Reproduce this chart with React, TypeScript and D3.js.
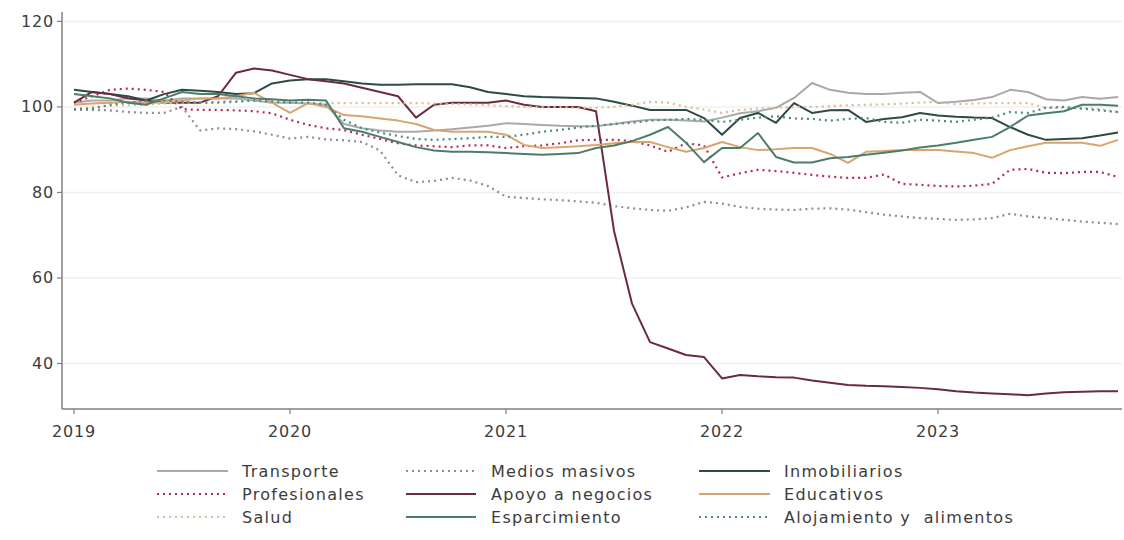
import React from "react";
import * as d3 from "d3";

const W = 1124;
const H = 540;

const yearTicks = [2019, 2020, 2021, 2022, 2023];
const yTicks = [40, 60, 80, 100, 120];

const transporte = [101, 101.5, 101.5, 102, 102, 101.5, 102, 102, 102, 102, 101.5, 101, 101, 100.8, 100.5, 96, 95, 94.5, 94.2, 94.2, 94.5, 94.8, 95.2, 95.6, 96.2, 96, 95.8, 95.6, 95.5, 95.5, 96, 96.6, 97, 97, 96.8, 96.6, 97.5, 98.5, 99, 99.8, 102.1, 105.6, 104, 103.3, 103, 103, 103.3, 103.5, 100.9, 101.2, 101.6, 102.3, 104, 103.5, 101.8, 101.5, 102.3, 101.9, 102.3];
const mediosMasivos = [99.3, 99.3, 99.2, 98.8, 98.6, 98.6, 100, 94.5, 95, 94.8, 94.3, 93.5, 92.6, 93, 92.4, 92.2, 91.8, 89.8, 84, 82.4, 82.7, 83.4, 82.8, 81.5, 79, 78.7, 78.4, 78.2, 77.9, 77.6, 76.8, 76.3, 75.9, 75.7, 76.5, 77.8, 77.4, 76.6, 76.2, 76, 75.9, 76.2, 76.3, 76, 75.4, 74.8, 74.4, 74, 73.8, 73.6, 73.7, 74, 75, 74.4, 74, 73.6, 73.2, 72.9, 72.6];
const inmobiliarios = [104, 103.5, 103, 102.5, 101.5, 103, 104, 103.8, 103.5, 103, 103.2, 105.5, 106.2, 106.5, 106.5, 106, 105.5, 105.2, 105.2, 105.3, 105.3, 105.3, 104.6, 103.5, 103, 102.5, 102.3, 102.2, 102.1, 102, 101.2, 100.3, 99.3, 99.3, 99.3, 97.4, 93.5, 97.4, 98.6, 96.3, 100.9, 98.6, 99.2, 99.3, 96.5, 97.2, 97.6, 98.6, 98, 97.7, 97.5, 97.4, 95.3, 93.5, 92.3, 92.5, 92.7, 93.3, 94];
const profesionales = [101, 102.5, 104, 104.3, 104, 103.5, 99.5, 99.3, 99.3, 99.2, 99, 98.5, 97, 95.8, 95, 94.6, 93.5, 92.5, 91.5, 91, 90.8, 90.6, 91, 91, 90.4, 90.8, 91, 91.5, 92.2, 92.3, 92.3, 92, 91, 89.5, 91.5, 91, 83.5, 84.5, 85.3, 85, 84.6, 84.1, 83.7, 83.4, 83.4, 84.2, 82, 81.8, 81.5, 81.4, 81.6, 82, 85.3, 85.5, 84.6, 84.5, 84.8, 84.8, 83.6];
const apoyoNegocios = [101, 103.5, 103, 102, 101.5, 101, 101, 101, 102.5, 108, 109, 108.5, 107.5, 106.5, 106, 105.5, 104.5, 103.5, 102.5, 97.5, 100.5, 101, 101, 101, 101.5, 100.5, 100, 100, 100, 99, 71, 54, 45, 43.5, 42, 41.5, 36.5, 37.3, 37, 36.8, 36.7, 36, 35.5, 35, 34.8, 34.7, 34.5, 34.3, 34, 33.5, 33.2, 33, 32.8, 32.6, 33, 33.3, 33.4, 33.5, 33.5];
const educativos = [100.5, 100.8, 101, 101.2, 101, 101, 101.5, 102, 102, 102.5, 103.3, 101, 98.6, 100.9, 100, 98.1, 97.8, 97.3, 96.8, 96, 94.6, 94.2, 94.2, 94.2, 93.5, 91.1, 90.4, 90.6, 90.8, 91.1, 91.5, 91.8, 91.8, 90.6, 89.5, 90.4, 91.8, 90.6, 89.9, 90.1, 90.4, 90.4, 89, 86.9, 89.5, 89.7, 89.9, 89.9, 89.9, 89.6, 89.2, 88.1, 89.9, 90.8, 91.6, 91.6, 91.6, 90.9, 92.3];
const salud = [99.5, 100, 100.2, 100.5, 100.5, 100.8, 101, 101, 101.2, 101.5, 101.5, 101.2, 101, 100.9, 100.9, 100.9, 100.9, 100.9, 100.9, 100.9, 100.8, 100.7, 100.6, 100.4, 100.2, 100, 100, 100, 99.8, 99.8, 100, 100.5, 101.2, 101, 100, 99.4, 98.6, 99.3, 99.6, 99.8, 100, 100, 100.2, 100.4, 100.5, 100.6, 100.8, 101, 101.2, 100.6, 100.8, 100.9, 100.9, 100.9, 99.8, 99.8, 99.8, 99.5, 98.8];
const esparcimiento = [103, 102.5, 102, 101, 100.5, 102, 103.5, 103, 103, 102.5, 102, 101.8, 101.5, 101.7, 101.5, 95, 94.2, 93, 91.8, 90.6, 89.8, 89.5, 89.5, 89.4, 89.2, 89, 88.8, 89, 89.2, 90.4, 91, 92, 93.5, 95.3, 91.6, 87.1, 90.4, 90.4, 93.9, 88.3, 87, 87, 88, 88.3, 88.8, 89.3, 89.8, 90.5, 91, 91.6, 92.3, 93, 95.3, 98, 98.5, 99, 100.5, 100.5, 100.3];
const alojamiento = [99.5, 99.6, 100.5, 101, 101.5, 101.5, 101.2, 101, 101, 101.2, 101.5, 101.3, 101, 101, 100.5, 97, 95, 94, 93.2, 92.5, 92.3, 92.5, 92.7, 93, 93, 93.5, 94.2, 94.6, 95.2, 95.6, 96, 96.3, 96.8, 97, 97.2, 97, 96.5, 97, 97.5, 97.8, 97.3, 97.2, 96.8, 97.2, 97.4, 96.5, 96.3, 97, 96.8, 96.5, 97, 97.5, 98.8, 98.6, 99.8, 100, 99.6, 99.2, 98.8];

const seriesNames = [
  "Transporte",
  "Medios masivos",
  "Inmobiliarios",
  "Profesionales",
  "Apoyo a negocios",
  "Educativos",
  "Salud",
  "Esparcimiento",
  "Alojamiento y  alimentos",
];
const seriesValues = [
  transporte,
  mediosMasivos,
  inmobiliarios,
  profesionales,
  apoyoNegocios,
  educativos,
  salud,
  esparcimiento,
  alojamiento,
];
const seriesColors = [
  "#a9a9a9",
  "#8e8e8e",
  "#2e4a44",
  "#b8294f",
  "#6c2a3e",
  "#d8a56e",
  "#d6bd96",
  "#4d7d6a",
  "#4a8a80",
];
const seriesDashed = [false, true, false, true, false, false, true, false, true];

export default function App() {
  const plotLeft = 62;
  const plotRight = 1122;
  const plotTop = 12;
  const plotBottom = 409;

  // month index: 0 = Jan 2019
  const x = d3.scaleLinear().domain([-2 / 3, 58.22]).range([plotLeft, plotRight]);
  const y = d3.scaleLinear().domain([29.36, 122.2]).range([plotBottom, plotTop]);

  const line = d3
    .line<number>()
    .x((_, i) => x(i))
    .y((d) => y(d));

  const textColor = "#3c3c3c";
  const axisColor = "#808080";
  const font = "'DejaVu Sans', sans-serif";

  const legendRows = [471, 494, 517];
  const legendCols = [
    { x1: 157, x2: 228, tx: 242 },
    { x1: 406, x2: 476, tx: 491 },
    { x1: 699, x2: 770, tx: 784 },
  ];

  return (
    <svg width={W} height={H} style={{ position: "absolute", left: 0, top: 0, background: "#fff" }}>
      <rect x={0} y={0} width={W} height={H} fill="#fff" />
      {yTicks.map((t) => (
        <line key={"g" + t} x1={plotLeft + 1} x2={plotRight} y1={y(t)} y2={y(t)} stroke="#f0f0f0" strokeWidth={1.5} />
      ))}
      {seriesValues.map((vals, k) => (
        <path
          key={seriesNames[k]}
          d={line(vals) || ""}
          fill="none"
          stroke={seriesColors[k]}
          strokeWidth={seriesDashed[k] ? 2.2 : 2}
          strokeDasharray={seriesDashed[k] ? "2 4" : undefined}
          strokeLinejoin="round"
        />
      ))}
      {/* axes */}
      <line x1={plotLeft} x2={plotLeft} y1={plotTop} y2={plotBottom} stroke={axisColor} strokeWidth={1.5} />
      <line x1={plotLeft} x2={plotRight} y1={plotBottom} y2={plotBottom} stroke={axisColor} strokeWidth={1.5} />
      {yTicks.map((t) => (
        <g key={"yt" + t}>
          <line x1={plotLeft - 5} x2={plotLeft} y1={y(t)} y2={y(t)} stroke={axisColor} strokeWidth={1.2} />
          <text x={plotLeft - 8} y={y(t)} textAnchor="end" dominantBaseline="central" fontFamily={font} fontSize={16} letterSpacing={0.8} fill={textColor}>
            {t}
          </text>
        </g>
      ))}
      {yearTicks.map((yr) => {
        const xi = x((yr - 2019) * 12);
        return (
          <g key={"xt" + yr}>
            <line x1={xi} x2={xi} y1={plotBottom} y2={plotBottom + 5} stroke={axisColor} strokeWidth={1.2} />
            <text x={xi} y={437} textAnchor="middle" fontFamily={font} fontSize={16} letterSpacing={0.8} fill={textColor}>
              {yr}
            </text>
          </g>
        );
      })}
      {/* legend */}
      {seriesNames.map((name, k) => {
        const r = Math.floor(k / 3);
        const c = k % 3;
        const ly = legendRows[r];
        const col = legendCols[c];
        return (
          <g key={"lg" + k}>
            <line
              x1={col.x1}
              x2={col.x2}
              y1={ly}
              y2={ly}
              stroke={seriesColors[k]}
              strokeWidth={seriesDashed[k] ? 2.2 : 2}
              strokeDasharray={seriesDashed[k] ? "2 4" : undefined}
            />
            <text x={col.tx} y={ly} dominantBaseline="central" fontFamily={font} fontSize={16} letterSpacing={1.3} fill={textColor} style={{ whiteSpace: "pre" }}>
              {name}
            </text>
          </g>
        );
      })}
    </svg>
  );
}
